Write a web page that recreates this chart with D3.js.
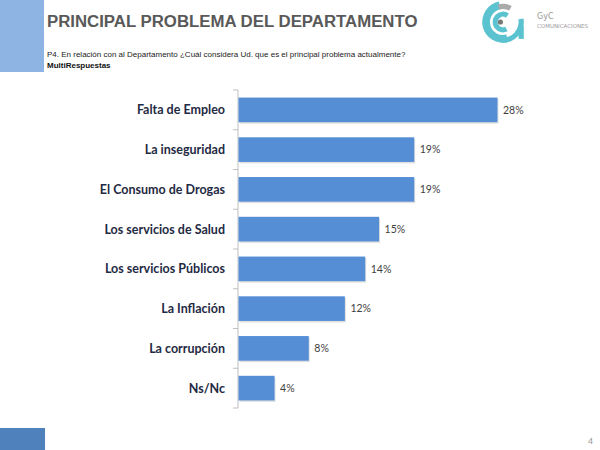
<!DOCTYPE html>
<html>
<head>
<meta charset="utf-8">
<style>
  body { margin: 0; background: #fff; }
  svg { display: block; }
</style>
</head>
<body>
<svg id="slide" width="600" height="450"></svg>

<script src="https://d3js.org/d3.v7.min.js"></script>
<script>
  // data (bar lengths)
  var categories = ["Falta de Empleo", "La inseguridad", "El Consumo de Drogas",
    "Los servicios de Salud", "Los servicios Públicos", "La Inflación",
    "La corrupción", "Ns/Nc"];
  var values = [28, 19, 19, 15.2, 13.7, 11.5, 7.6, 3.9];
  var valueLabels = ["28%", "19%", "19%", "15%", "14%", "12%", "8%", "4%"];

  var svg = d3.select("#slide");

  // slide decoration
  svg.append("rect").attr("x", 0).attr("y", 0).attr("width", 44).attr("height", 72)
    .style("fill", "#8db4e2");
  svg.append("rect").attr("x", 0).attr("y", 428).attr("width", 45).attr("height", 22)
    .style("fill", "#4f81bd");

  svg.append("text").attr("x", 47).attr("y", 27)
    .style("font-family", "Liberation Sans, Arial, sans-serif")
    .style("font-weight", "bold").style("font-size", "16.8px").style("fill", "#595959")
    .text("PRINCIPAL PROBLEMA DEL DEPARTAMENTO");

  svg.append("text").attr("x", 47).attr("y", 57)
    .style("font-family", "Liberation Sans Narrow, Liberation Sans, sans-serif")
    .style("font-size", "8px").style("fill", "#222")
    .text("P4. En relación con al Departamento ¿Cuál considera Ud. que es el principal problema actualmente?");

  svg.append("text").attr("x", 47).attr("y", 68)
    .style("font-family", "Liberation Sans, Arial, sans-serif")
    .style("font-weight", "bold").style("font-size", "8px").style("fill", "#111")
    .text("MultiRespuestas");

  svg.append("text").attr("x", 593).attr("y", 444).attr("text-anchor", "end")
    .style("font-family", "Liberation Sans, Arial, sans-serif")
    .style("font-size", "9px").style("fill", "#999")
    .text("4");

  // logo, roughly
  var logo = svg.append("g").attr("transform", "translate(503,22) scale(1.3)");
  logo.append("path")
    .attr("d", d3.arc()({ innerRadius: 10, outerRadius: 16, startAngle: -0.2, endAngle: -3.4 }))
    .style("fill", "#5bc3cf");
  logo.append("path")
    .attr("d", d3.arc()({ innerRadius: 4, outerRadius: 8, startAngle: 0.6, endAngle: -3.6 }))
    .style("fill", "#5bc3cf");
  logo.append("path")
    .attr("d", d3.arc()({ innerRadius: 12, outerRadius: 16, startAngle: 1.4, endAngle: 3.2 }))
    .style("fill", "#5bc3cf");
  logo.append("path")
    .attr("d", d3.arc()({ innerRadius: 10, outerRadius: 14, startAngle: -0.3, endAngle: 0.5 }))
    .style("fill", "#aaa");
  logo.append("circle").attr("cx", -2).attr("cy", 0).attr("r", 2).style("fill", "#777");
  logo.append("rect").attr("x", 12).attr("y", 3).attr("width", 4).attr("height", 10)
    .style("fill", "#5bc3cf");
  svg.append("text").attr("x", 537).attr("y", 19)
    .style("font-family", "DejaVu Sans, sans-serif").style("font-size", "8px")
    .style("fill", "#999").text("GyC");
  svg.append("text").attr("x", 537).attr("y", 28)
    .style("font-family", "DejaVu Sans, sans-serif").style("font-size", "5.5px")
    .style("fill", "#999").text("COMUNICACIONES");

  // chart area
  var margin = { top: 90, left: 238 };
  var height = 318;

  var chart = svg.append("g")
    .attr("transform", "translate(" + margin.left + "," + margin.top + ")");

  var x = d3.scaleLinear()
    .domain([0, 28])
    .range([0, 259]);

  var y = d3.scaleBand()
    .domain(categories)
    .range([0, height])
    .paddingInner(0.38)
    .paddingOuter(0.19);

  // axis with ticks at the category boundaries
  var bounds = d3.range(categories.length + 1).map(function (i) { return i * height / categories.length; });
  chart.append("line")
    .attr("x1", 0).attr("x2", 0).attr("y1", 0).attr("y2", height)
    .style("stroke", "#bfbfbf").style("stroke-width", 1);
  chart.selectAll(".tick")
    .data(bounds)
    .enter()
    .append("line")
    .attr("x1", -5).attr("x2", 0)
    .attr("y1", function (d) { return d; })
    .attr("y2", function (d) { return d; })
    .style("stroke", "#bfbfbf");

  // bar shadows
  chart.selectAll(".shadow")
    .data(values)
    .enter()
    .append("rect")
    .attr("x", 1.5)
    .attr("y", function (d, i) { return y(categories[i]) + 1.5; })
    .attr("width", function (d) { return x(d); })
    .attr("height", y.bandwidth())
    .style("fill", "#000").style("opacity", 0.12);

  chart.selectAll(".bar")
    .data(values)
    .enter()
    .append("rect")
    .attr("x", 0.5)
    .attr("y", function (d, i) { return y(categories[i]); })
    .attr("width", function (d) { return x(d); })
    .attr("height", y.bandwidth())
    .style("fill", "#558ed5");

  chart.selectAll(".val")
    .data(values)
    .enter()
    .append("text")
    .attr("x", function (d) { return x(d) + 6; })
    .attr("y", function (d, i) { return y(categories[i]) + y.bandwidth() / 2; })
    .attr("dy", "0.35em")
    .style("font-family", "Lato, sans-serif").style("font-size", "10.5px").style("fill", "#404040")
    .text(function (d, i) { return valueLabels[i]; });

  chart.selectAll(".cat")
    .data(categories)
    .enter()
    .append("text")
    .attr("x", -13)
    .attr("y", function (d) { return y(d) + y.bandwidth() / 2; })
    .attr("dy", "0.35em")
    .attr("text-anchor", "end")
    .style("font-family", "Lato, sans-serif").style("font-weight", "bold")
    .style("font-size", "12.5px").style("fill", "#1f2a44")
    .text(function (d) { return d; });
</script>
</body>
</html>
